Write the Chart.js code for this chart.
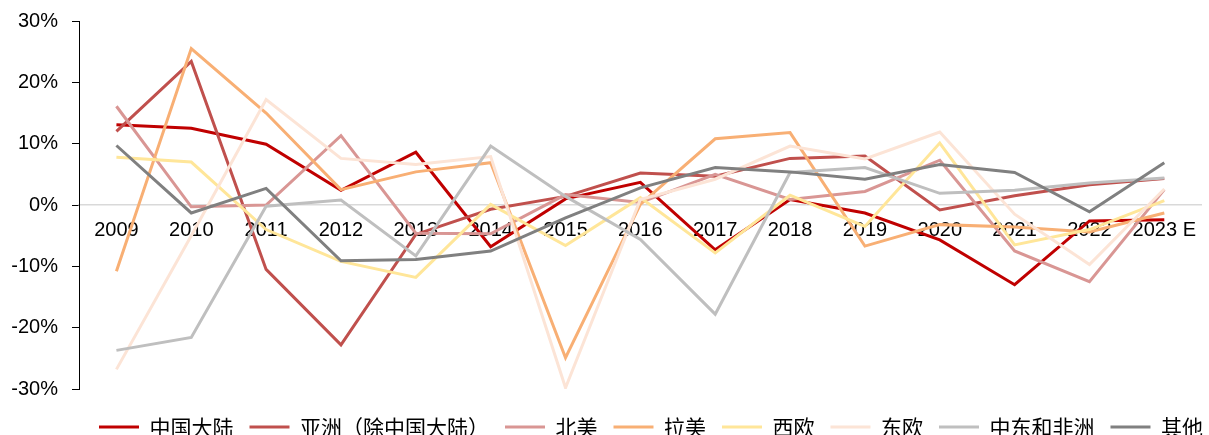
<!DOCTYPE html>
<html>
<head>
<meta charset="utf-8">
<script src="https://cdn.jsdelivr.net/npm/chart.js@4/dist/chart.umd.min.js"></script>
<style>
  html, body { margin: 0; padding: 0; background: #ffffff; }
  #wrap { width: 1209px; height: 435px; position: relative; }
</style>
</head>
<body>
<div id="wrap"><canvas id="c"></canvas></div>
<script>
const categories = ['2009','2010','2011','2012','2013','2014','2015','2016','2017','2018','2019','2020','2021','2022','2023 E'];
const yTicks = [-30, -20, -10, 0, 10, 20, 30];

const chinaMainland = [13.1, 12.5, 9.9, 2.4, 8.6, -6.8, 1.0, 3.7, -7.3, 0.9, -1.3, -5.7, -13.0, -2.6, -2.4];
const asiaExChina   = [12.0, 23.4, -10.5, -22.8, -4.8, -0.7, 1.4, 5.2, 4.7, 7.6, 8.0, -0.8, 1.5, 3.3, 4.3];
const northAmerica  = [16.1, -0.3, 0.0, 11.3, -4.6, -4.7, 1.7, 0.4, 5.0, 0.9, 2.2, 7.3, -7.5, -12.5, 2.5];
const latinAmerica  = [-10.8, 25.5, 15.0, 2.5, 5.4, 6.9, -24.9, 0.1, 10.8, 11.8, -6.7, -3.2, -3.6, -4.4, -1.3];
const westernEurope = [7.8, 7.0, -4.0, -9.2, -11.8, 0.1, -6.6, 1.2, -7.8, 1.6, -3.5, 10.1, -6.5, -4.0, 0.7];
const easternEurope = [-26.8, -5.0, 17.2, 7.6, 6.6, 7.9, -29.8, 0.9, 4.2, 9.6, 7.5, 11.9, -1.5, -9.7, 2.6];
const middleEastAfrica = [-23.7, -21.6, -0.2, 0.8, -8.3, 9.6, 1.4, -5.6, -17.8, 5.3, 6.1, 1.9, 2.4, 3.6, 4.4];
const others        = [9.7, -1.3, 2.7, -9.1, -8.9, -7.5, -2.1, 2.8, 6.1, 5.4, 4.2, 6.6, 5.3, -1.1, 6.9];

const seriesNames = ['中国大陆', '亚洲（除中国大陆）', '北美', '拉美', '西欧', '东欧', '中东和非洲', '其他'];
const seriesData = [chinaMainland, asiaExChina, northAmerica, latinAmerica, westernEurope, easternEurope, middleEastAfrica, others];
const seriesColors = ['#C00000', '#C0504D', '#D99694', '#F8AF74', '#FFE699', '#FCE4D6', '#BFBFBF', '#808080'];

const datasets = seriesData.map((d, i) => ({
  label: seriesNames[i],
  data: d,
  borderColor: seriesColors[i],
  backgroundColor: seriesColors[i],
  borderWidth: 3,
  pointRadius: 0,
  pointHoverRadius: 0,
  tension: 0,
  fill: false,
  order: -i
}));

const LEGEND_START = 99;
const legendTweak = {
  id: 'legendTweak',
  beforeInit(chart) {
    const lg = chart.legend;
    const orig = lg.fit;
    lg.fit = function() {
      orig.call(this);
      this.height = 46;
      const pad = this.options.labels.padding;
      if (this.lineWidths && this.lineWidths.length) {
        this.lineWidths[0] = pad + this.maxWidth - 2 * LEGEND_START;
      }
    };
  }
};

new Chart(document.getElementById('c'), {
  type: 'line',
  data: { labels: categories, datasets },
  plugins: [legendTweak],
  options: {
    responsive: true,
    maintainAspectRatio: false,
    animation: false,
    devicePixelRatio: 1,
    layout: { padding: { top: 21, left: 0, right: 0, bottom: 0 } },
    scales: {
      x: {
        type: 'category',
        position: { y: 0 },
        offset: true,
        grid: { display: false, drawTicks: false, drawOnChartArea: false },
        border: { display: true, color: '#D9D9D9', width: 1.5 },
        ticks: {
          color: '#000000',
          font: { family: "'Liberation Sans', Arial, sans-serif", size: 20 },
          padding: 13,
          maxRotation: 0,
          autoSkip: false
        },
        afterFit(scale) { scale.height = 0; }
      },
      y: {
        type: 'linear',
        min: -30,
        max: 30,
        afterBuildTicks(scale) { scale.ticks = yTicks.map(v => ({ value: v })); },
        grid: { display: true, drawOnChartArea: false, drawTicks: true, tickLength: 7, color: '#000000', lineWidth: 1 },
        border: { display: true, color: '#000000', width: 1 },
        ticks: {
          color: '#000000',
          font: { family: "'Liberation Sans', Arial, sans-serif", size: 20 },
          padding: 14,
          callback: (v) => v + '%'
        },
        afterFit(scale) { scale.width = 79; scale.paddingTop = 0; scale.paddingBottom = 0; }
      }
    },
    plugins: {
      tooltip: { enabled: false },
      legend: {
        display: true,
        position: 'bottom',
        align: 'center',
        title: { display: true, text: '', padding: { top: 12, bottom: 0 }, font: { size: 10, lineHeight: 1 } },
        labels: {
          usePointStyle: true,
          pointStyle: 'line',
          pointStyleWidth: 40,
          padding: 5.5,
          color: '#000000',
          font: { family: "'Noto Sans CJK SC', 'Liberation Sans', sans-serif", size: 21 },
          sort: (a, b) => a.datasetIndex - b.datasetIndex,
          generateLabels(chart) {
            const items = Chart.defaults.plugins.legend.labels.generateLabels(chart);
            const n = chart.data.datasets.length;
            items.forEach(it => {
              it.pointStyle = 'line';
              if (it.datasetIndex < n - 1) it.text = it.text + '\u2002';
            });
            return items;
          }
        }
      }
    }
  }
});
</script>
</body>
</html>
